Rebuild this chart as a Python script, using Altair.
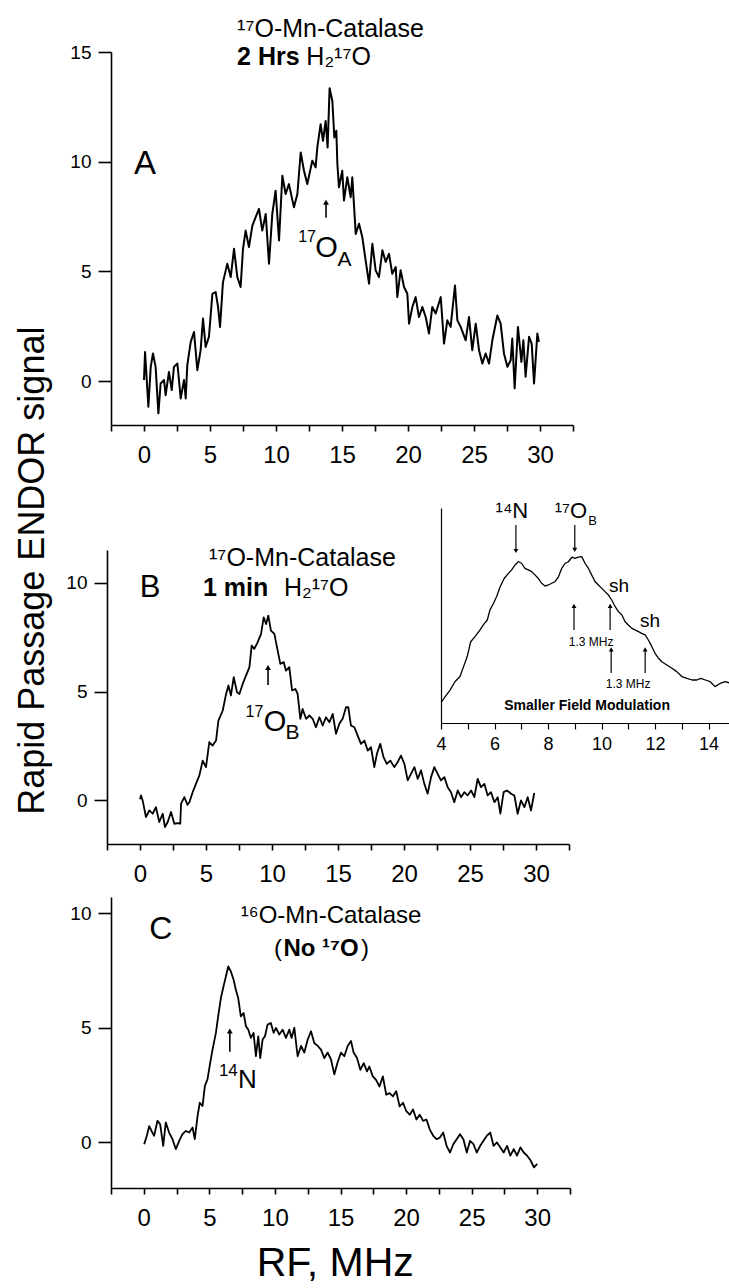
import altair as alt
import pandas as pd

H, W = 1288, 729
FONT = "Liberation Sans"

# ---------------- data ----------------
a_x = [0.00, 0.08, 0.33, 0.51, 0.68, 0.88, 1.09, 1.26, 1.52, 1.64, 1.89, 2.10, 2.27, 2.53, 2.78, 3.03,
       3.16, 3.28, 3.54, 3.79, 4.04, 4.29, 4.47, 4.67, 4.92, 5.18, 5.43, 5.61, 5.76, 5.98, 6.31, 6.57,
       6.82, 7.07, 7.32, 7.50, 7.70, 7.95, 8.21, 8.46, 8.71, 8.96, 9.22, 9.47, 9.72, 9.97, 10.23, 10.48,
       10.73, 10.98, 11.36, 11.62, 11.87, 12.12, 12.37, 12.75, 13.00, 13.13, 13.38, 13.56, 13.76, 13.91,
       14.06, 14.27, 14.42, 14.57, 14.65, 14.77, 15.02, 15.15, 15.40, 15.66, 15.78, 16.04, 16.29, 16.54,
       16.79, 17.05, 17.30, 17.55, 17.80, 18.06, 18.31, 18.56, 18.81, 19.07, 19.19, 19.44, 19.70, 19.95,
       20.08, 20.33, 20.58, 20.83, 21.09, 21.34, 21.59, 21.84, 22.10, 22.48, 22.73, 22.98, 23.23, 23.56,
       23.74, 23.99, 24.37, 24.62, 24.87, 25.13, 25.38, 25.63, 25.88, 26.14, 26.39, 26.77, 27.02, 27.27,
       27.53, 27.78, 27.90, 28.08, 28.33, 28.59, 28.74, 28.91, 29.17, 29.37, 29.55, 29.80, 29.92]
a_y = [0.05, 1.33, -1.17, 0.65, 1.26, 0.65, -1.47, -0.11, 0.05, -0.64, 0.42, -0.41, 0.65, 0.80, -0.79, 0.05,
       -0.79, 0.73, 1.79, 2.24, 0.50, 1.41, 2.85, 1.56, 2.02, 3.98, 4.06, 3.38, 2.47, 4.50, 5.35, 4.74,
       6.03, 4.74, 4.29, 6.03, 6.86, 6.11, 7.09, 7.47, 7.85, 6.86, 7.62, 5.35, 7.62, 8.68, 6.41, 9.36,
       8.53, 8.98, 7.92, 8.53, 10.42, 9.59, 8.98, 10.05, 9.74, 10.65, 11.71, 10.95, 11.86, 10.65,
       13.35, 12.77, 11.10, 11.41, 9.89, 8.83, 9.59, 8.23, 9.29, 8.38, 9.29, 6.71, 7.17, 6.56,
       5.50, 4.44, 6.26, 5.05, 4.74, 5.96, 5.43, 5.80, 4.89, 5.20, 3.83, 5.05, 4.29, 3.98,
       2.62, 3.38, 3.83, 2.92, 3.38, 2.92, 2.17, 3.38, 3.08, 3.83, 1.71, 2.77, 2.47, 4.36,
       2.77, 2.47, 1.86, 2.92, 1.41, 2.62, 1.41, 0.80, 1.26, 0.80, 1.86, 2.99, 2.62, 1.26,
       0.65, 0.95, 1.94, -0.33, 2.47, 0.88, 1.86, 0.20, 2.02, 1.71, -0.11, 2.17, 1.79]

b_x = [0.00, 0.08, 0.20, 0.45, 0.71, 0.96, 1.21, 1.46, 1.72, 1.89, 2.10, 2.35, 2.60, 2.85, 3.05, 3.11,
       3.36, 3.60, 3.74, 3.99, 4.24, 4.50, 4.75, 5.00, 5.25, 5.50, 5.76, 5.94, 6.27, 6.52, 6.70, 6.89,
       7.10, 7.35, 7.53, 7.78, 8.03, 8.29, 8.46, 8.66, 8.91, 9.17, 9.37, 9.55, 9.72, 9.92, 10.18, 10.38,
       10.63, 10.89, 11.06, 11.31, 11.52, 11.77, 11.94, 12.15, 12.32, 12.58, 12.83, 13.08, 13.33, 13.59,
       13.84, 14.09, 14.35, 14.60, 14.85, 15.10, 15.35, 15.61, 15.78, 15.98, 16.24, 16.49, 16.74, 17.00,
       17.25, 17.50, 17.75, 17.95, 18.20, 18.45, 18.70, 18.96, 19.27, 19.52, 19.77, 20.03, 20.28, 20.53,
       20.79, 21.04, 21.29, 21.54, 21.79, 22.05, 22.30, 22.55, 22.80, 23.06, 23.31, 23.56, 23.81, 24.07,
       24.32, 24.57, 24.82, 25.08, 25.33, 25.58, 25.83, 26.09, 26.34, 26.59, 26.85, 27.10, 27.30, 27.55,
       27.80, 28.11, 28.36, 28.61, 28.86, 29.12, 29.37, 29.62, 29.87]
b_y = [0.05, 0.23, 0.00, -0.76, -0.46, -0.61, -0.31, -0.99, -0.61, -1.22, -0.99, -0.53, -1.07, -1.04, -1.07, -0.15,
       0.15, -0.20, -0.08, 0.38, 0.76, 1.15, 1.83, 1.53, 2.68, 2.52, 2.75, 3.67, 4.13, 4.89, 5.28, 4.82,
       5.66, 4.97, 4.89, 5.35, 5.73, 6.12, 7.11, 6.96, 7.26, 7.65, 8.41, 8.10, 8.49, 7.80, 7.65, 7.03,
       6.27, 6.35, 5.96, 6.12, 5.05, 5.12, 4.89, 3.75, 4.20, 3.75, 3.90, 3.75, 3.36, 3.82,
       3.44, 3.82, 3.59, 3.97, 3.06, 3.52, 3.75, 4.28, 4.28, 3.44, 3.36, 2.98, 2.60, 2.75,
       2.29, 2.45, 1.53, 2.14, 2.60, 1.99, 1.68, 1.83, 1.53, 1.76, 2.06, 1.68, 0.92, 1.22,
       1.53, 0.99, 1.38, 0.76, 0.31, 1.07, 1.53, 1.22, 0.92, 1.07, 0.61, 0.38, -0.08, 0.46,
       0.15, 0.38, 0.23, 0.46, 0.15, 0.99, 0.61, 0.76, 0.23, 0.38, -0.08, 0.15, -0.61, 0.38,
       0.46, 0.31, 0.23, -0.61, 0.00, -0.31, 0.15, -0.46, 0.34]

c_x = [0.03, 0.23, 0.41, 0.59, 0.79, 1.04, 1.25, 1.48, 1.68, 1.93, 2.19, 2.44, 2.70, 2.95, 3.21, 3.46,
       3.72, 3.89, 4.10, 4.27, 4.48, 4.66, 4.86, 5.06, 5.24, 5.50, 5.67, 5.88, 6.08, 6.26, 6.44, 6.64,
       6.85, 7.02, 7.20, 7.40, 7.61, 7.79, 7.97, 8.17, 8.37, 8.55, 8.73, 8.88, 9.06, 9.24, 9.44, 9.69,
       9.90, 10.08, 10.33, 10.59, 10.84, 11.10, 11.27, 11.48, 11.73, 11.99, 12.24, 12.50, 12.75, 13.00,
       13.26, 13.51, 13.77, 14.02, 14.27, 14.53, 14.78, 15.04, 15.29, 15.55, 15.80, 16.00, 16.26, 16.51,
       16.77, 17.02, 17.20, 17.46, 17.71, 17.97, 18.23, 18.49, 18.74, 19.00, 19.25, 19.51, 19.77, 20.02,
       20.28, 20.53, 20.79, 21.04, 21.30, 21.55, 21.81, 22.07, 22.32, 22.58, 22.83, 23.09, 23.35, 23.60,
       23.86, 24.11, 24.37, 24.63, 24.88, 25.14, 25.39, 25.65, 25.90, 26.16, 26.42, 26.67, 26.93, 27.19,
       27.44, 27.70, 27.95, 28.21, 28.46, 28.72, 28.97, 29.23, 29.50, 29.75, 30.00]
c_y = [-0.09, 0.28, 0.70, 0.49, 0.28, 0.93, 0.78, -0.16, 0.86, 0.42, 0.13, -0.30, 0.06, 0.35, 0.49, 0.42,
       0.64, 0.13, 1.14, 1.72, 1.58, 2.46, 2.75, 3.45, 4.04, 4.77, 5.49, 6.29, 6.80, 7.23, 7.67, 7.45,
       7.09, 6.65, 6.29, 5.49, 5.64, 5.06, 4.91, 4.55, 4.77, 3.75, 4.62, 3.67, 4.48, 4.62, 5.13, 5.20,
       4.77, 4.99, 4.70, 4.91, 4.55, 4.91, 4.55, 4.99, 3.75, 4.20, 3.91, 4.48, 4.84, 4.33,
       4.20, 4.04, 3.67, 3.91, 3.62, 2.96, 3.49, 3.91, 3.75, 4.20, 4.42, 3.91, 3.67, 3.16,
       3.45, 3.09, 3.30, 2.87, 2.72, 2.43, 2.87, 2.07, 2.14, 2.00, 2.22, 1.56, 1.72, 1.35,
       1.20, 1.43, 0.99, 1.20, 0.93, 0.99, 0.55, 0.28, 0.13, 0.20, 0.42, -0.16, -0.45, -0.09,
       0.13, 0.35, 0.13, -0.45, 0.06, -0.09, -0.45, -0.16, 0.06, 0.28, 0.42, -0.16, -0.01, -0.23,
       -0.45, -0.16, -0.59, -0.30, -0.59, -0.23, -0.45, -0.59, -0.80, -1.10, -0.95]

ins_x = [4.03, 4.15, 4.34, 4.52, 4.71, 4.84, 4.98, 5.11, 5.27, 5.46, 5.58, 5.73, 5.83, 5.96, 6.08, 6.21,
         6.36, 6.52, 6.64, 6.77, 6.89, 7.01, 7.14, 7.26, 7.39, 7.51, 7.64, 7.76, 7.89, 8.01, 8.14, 8.26,
         8.39, 8.51, 8.64, 8.76, 8.89, 9.01, 9.13, 9.26, 9.38, 9.51, 9.63, 9.76, 9.88, 10.01, 10.13, 10.26,
         10.38, 10.51, 10.63, 10.76, 10.88, 11.00, 11.13, 11.25, 11.38, 11.50, 11.63, 11.75, 11.88, 12.00,
         12.13, 12.25, 12.44, 12.63, 12.81, 13.00, 13.19, 13.38, 13.56, 13.71, 13.88, 14.06, 14.24, 14.43,
         14.62, 14.77]
ins_y = [0.99, 1.22, 1.53, 1.92, 2.16, 2.61, 3.09, 3.78, 4.02, 4.33, 4.56, 4.79, 5.26, 5.56, 5.88, 6.34,
         6.72, 6.96, 7.12, 7.35, 7.50, 7.43, 7.19, 7.12, 7.04, 6.89, 6.72, 6.50, 6.37, 6.42, 6.50, 6.57,
         6.80, 7.19, 7.43, 7.50, 7.71, 7.66, 7.71, 7.74, 7.43, 7.19, 6.89, 6.57, 6.42, 6.26, 6.11, 5.95,
         5.72, 5.41, 5.18, 5.02, 4.71, 4.56, 4.40, 4.33, 4.25, 4.17, 4.10, 3.86, 3.55, 3.24,
         3.01, 2.85, 2.70, 2.55, 2.39, 2.16, 2.08, 2.00, 2.00, 2.08, 2.00, 1.92, 1.69, 1.84,
         1.92, 1.87]

main_ticks = [-2.5, 0, 2.5, 5, 7.5, 10, 12.5, 15, 17.5, 20, 22.5, 25, 27.5, 30, 32.5]
inset_ticks = [4, 5, 6, 7, 8, 9, 10, 11, 12, 13, 14]

# ---------------- panel geometry (scale domains / pixel ranges) ----------------
PANELS = {
    "A": {"xd": [-2.5, 32.5], "xr": [111, 573], "yd": [-2, 15], "yr": [425, 52]},
    "B": {"xd": [-2.5, 32.5], "xr": [107, 569], "yd": [-2, 11.5], "yr": [844, 550]},
    "C": {"xd": [-2.5, 32.5], "xr": [111, 570], "yd": [-2, 10.7], "yr": [1188, 897]},
    "I": {"xd": [4, 14.8], "xr": [441, 730], "yd": [0, 10], "yr": [723, 508]},
}


def xs(p):
    c = PANELS[p]
    return alt.Scale(domain=c["xd"], range=c["xr"], nice=False, zero=False)


def ys(p):
    c = PANELS[p]
    return alt.Scale(domain=c["yd"], range=c["yr"], nice=False, zero=False)


AX = dict(grid=False, title=None, domainColor="black", tickColor="black", labelColor="black",
          labelFont=FONT, labelFlush=False, labelOverlap=False, labelBound=False)


def bottom_axis(p, values, mod, size, tick=6, pad=12, width=1.6):
    c = PANELS[p]
    return alt.Axis(orient="bottom", offset=c["yr"][0] - H, values=values,
                    labelExpr=f"datum.value % {mod} === 0 ? '' + datum.value : ''",
                    labelFontSize=size, tickSize=tick, labelPadding=pad,
                    domainWidth=width, tickWidth=width, **AX)


def left_axis(p, values, size=19, tick=13, pad=7, width=1.6, labels=True, ticks=True):
    c = PANELS[p]
    return alt.Axis(orient="left", offset=-c["xr"][0], values=values,
                    labelExpr="'' + datum.value", labelFontSize=size, tickSize=tick,
                    labelPadding=pad, domainWidth=width, tickWidth=width,
                    labels=labels, ticks=ticks, **AX)


def trace(p, xv, yv, width, xaxis, yaxis):
    df = pd.DataFrame({"x": xv, "y": yv})
    return alt.Chart(df).mark_line(color="black", strokeWidth=width, strokeJoin="round").encode(
        x=alt.X("x:Q", scale=xs(p), axis=xaxis),
        y=alt.Y("y:Q", scale=ys(p), axis=yaxis),
    )


def label(p, x, y, text, size, weight="normal", align="center", angle=0):
    df = pd.DataFrame({"x": [x], "y": [y], "t": [text]})
    return alt.Chart(df).mark_text(font=FONT, fontSize=size, fontWeight=weight, align=align,
                                   baseline="middle", color="black", angle=angle).encode(
        x=alt.X("x:Q", scale=xs(p), axis=None),
        y=alt.Y("y:Q", scale=ys(p), axis=None),
        text="t:N",
    )


def arrow(p, x, y_tail, y_head, width=1.6, head=34):
    df = pd.DataFrame({"x": [x], "y": [y_tail], "y2": [y_head]})
    rule = alt.Chart(df).mark_rule(color="black", strokeWidth=width).encode(
        x=alt.X("x:Q", scale=xs(p), axis=None),
        y=alt.Y("y:Q", scale=ys(p), axis=None),
        y2="y2:Q",
    )
    shape = "triangle-up" if y_head > y_tail else "triangle-down"
    tip = alt.Chart(df).mark_point(shape=shape, filled=True, size=head, color="black", opacity=1).encode(
        x=alt.X("x:Q", scale=xs(p), axis=None),
        y=alt.Y("y2:Q", scale=ys(p), axis=None),
    )
    return [rule, tip]


layers = []
TF = 25  # title font size

# ---- Panel A ----
layers.append(trace("A", a_x, a_y, 2.0, bottom_axis("A", main_ticks, 5, 24),
                    left_axis("A", [0, 5, 10, 15])))
layers += [
    label("A", 7.05, 16.07, "¹⁷O-Mn-Catalase", TF, align="left"),
    label("A", 7.05, 14.75, "2 Hrs", TF, weight="bold", align="left"),
    label("A", 12.3, 14.75, "H₂¹⁷O", TF, align="left"),
    label("A", 0.08, 9.9, "A", 33),
    label("A", 12.35, 6.59, "17", 16),
    label("A", 13.83, 6.05, "O", 29),
    label("A", 15.19, 5.52, "A", 21),
]
layers += arrow("A", 13.79, 7.45, 8.15)

# ---- Panel B ----
layers.append(trace("B", b_x, b_y, 1.8, bottom_axis("B", main_ticks, 5, 24),
                    left_axis("B", [0, 5, 10])))
layers += [
    label("B", 5.23, 11.15, "¹⁷O-Mn-Catalase", TF, align="left"),
    label("B", 4.77, 9.75, "1 min", TF, weight="bold", align="left"),
    label("B", 10.9, 9.75, "H₂¹⁷O", TF, align="left"),
    label("B", 0.76, 9.77, "B", 31),
    label("B", 8.67, 4.08, "17", 16),
    label("B", 10.23, 3.58, "O", 29),
    label("B", 11.55, 3.10, "B", 21),
    label("B", -8.1, 10.55, "Rapid Passage ENDOR signal", 36, angle=270),
]
layers += arrow("B", 9.7, 5.3, 6.1)

# ---- Panel C ----
layers.append(trace("C", c_x, c_y, 1.8, bottom_axis("C", main_ticks, 5, 24),
                    left_axis("C", [0, 5, 10])))
layers += [
    label("C", 7.4, 9.85, "¹⁶O-Mn-Catalase", 24, align="left"),
    label("C", 9.92, 8.45, "(", 24, align="left"),
    label("C", 10.65, 8.45, "No ¹⁷O", 24, weight="bold", align="left"),
    label("C", 17.18, 8.45, ")", 24, align="right"),
    label("C", 1.3, 9.3, "C", 32),
    label("C", 6.45, 3.09, "14", 17),
    label("C", 7.9, 2.7, "N", 26),
    label("C", 14.6, -5.3, "RF, MHz", 41),
]
layers += arrow("C", 6.56, 3.95, 4.85)

# ---- Inset ----
layers.append(trace("I", ins_x, ins_y, 1.3, bottom_axis("I", inset_ticks, 2, 18, tick=6, pad=6, width=1.2),
                    left_axis("I", [], width=1.2, labels=False, ticks=False)))
layers += [
    label("I", 6.65, 9.86, "¹⁴N", 22),
    label("I", 9.46, 9.84, "¹⁷O", 22, align="right"),
    label("I", 9.50, 9.40, "B", 13, align="left"),
    label("I", 10.65, 6.37, "sh", 19),
    label("I", 11.81, 4.74, "sh", 19),
    label("I", 9.61, 3.77, "1.3 MHz", 12),
    label("I", 10.99, 1.81, "1.3 MHz", 12),
    label("I", 9.46, 0.79, "Smaller Field Modulation", 14, weight="bold"),
]
layers += arrow("I", 6.8, 9.21, 8.0, width=1.2, head=24)
layers += arrow("I", 9.0, 9.21, 8.05, width=1.2, head=24)
layers += arrow("I", 8.97, 4.33, 5.45, width=1.2, head=24)
layers += arrow("I", 10.32, 4.33, 5.45, width=1.2, head=24)
layers += arrow("I", 10.36, 2.33, 3.42, width=1.2, head=24)
layers += arrow("I", 11.63, 2.33, 3.42, width=1.2, head=24)

chart = alt.layer(*layers).resolve_scale(x="independent", y="independent").properties(
    width=W, height=H, autosize=alt.AutoSizeParams(type="none"), padding=0,
    background="white",
).configure_view(strokeWidth=0)

chart.save("out.html", embed_options={"renderer": "svg", "actions": False})
